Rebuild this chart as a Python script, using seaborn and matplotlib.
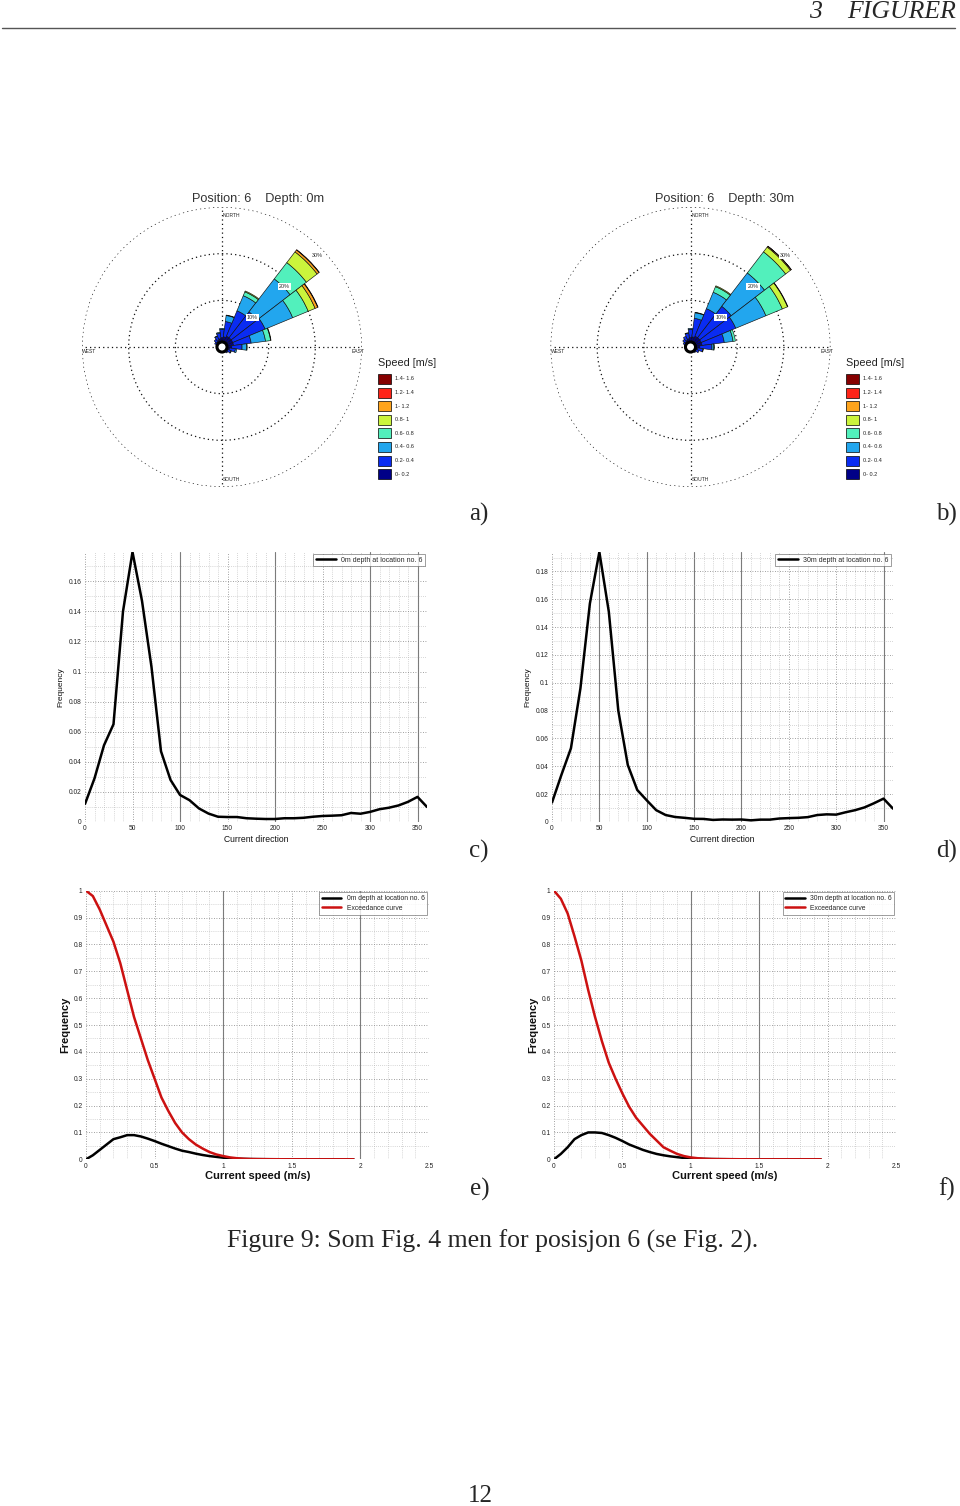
import numpy as np
import matplotlib
matplotlib.use("Agg")
import matplotlib.pyplot as plt
import seaborn as sns
from matplotlib.patches import Rectangle, Circle
from matplotlib.lines import Line2D
from matplotlib.ticker import MultipleLocator, FuncFormatter

sns.set_theme(style="white")
plt.rcParams['font.family'] = ['Liberation Sans', 'DejaVu Sans']

# ---------------- DATA ----------------
rose_dirs = [0, 15, 30, 45, 60, 75, 90, 105, 120, 135, 150, 165,
             180, 195, 210, 225, 240, 255, 270, 285, 300, 315, 330, 345]
speed_labels = ["0- 0.2", "0.2- 0.4", "0.4- 0.6", "0.6- 0.8",
                "0.8- 1", "1- 1.2", "1.2- 1.4", "1.4- 1.6"]

# Percent per direction, per speed class (0 m)
rose0_s0 = [2.0, 2.2, 2.5, 2.5, 2.5, 2.5, 2.1, 1.6, 1.3, 1.1, 1.0, 0.9, 0.8, 0.8, 0.8, 0.8, 0.8, 0.8, 0.9, 1.0, 1.2, 1.4, 1.6, 1.8]
rose0_s1 = [1.8, 3.3, 5.9, 7.0, 7.5, 3.8, 2.2, 1.3, 0.8, 0.5, 0.3, 0.2, 0.1, 0.1, 0.1, 0.1, 0.1, 0.1, 0.2, 0.3, 0.5, 0.7, 0.9, 1.2]
rose0_s2 = [0.2, 1.3, 3.5, 8.9, 6.4, 3.1, 1.0, 0.3, 0.1, 0, 0, 0, 0, 0, 0, 0, 0, 0, 0, 0, 0, 0, 0.1, 0.2]
rose0_s3 = [0, 0.1, 0.9, 4.4, 3.6, 1.1, 0.1, 0, 0, 0, 0, 0, 0, 0, 0, 0, 0, 0, 0, 0, 0, 0, 0, 0]
rose0_s4 = [0, 0, 0.2, 2.9, 1.6, 0.1, 0, 0, 0, 0, 0, 0, 0, 0, 0, 0, 0, 0, 0, 0, 0, 0, 0, 0]
rose0_s5 = [0, 0, 0, 0.5, 0.6, 0, 0, 0, 0, 0, 0, 0, 0, 0, 0, 0, 0, 0, 0, 0, 0, 0, 0, 0]
rose0_s6 = [0, 0, 0, 0.1, 0.1, 0, 0, 0, 0, 0, 0, 0, 0, 0, 0, 0, 0, 0, 0, 0, 0, 0, 0, 0]
rose0_s7 = [0] * 24

# Percent per direction, per speed class (30 m)
rose30_s0 = [2.0, 2.2, 2.5, 2.5, 2.5, 2.5, 2.0, 1.5, 1.3, 1.1, 1.0, 0.9, 0.8, 0.8, 0.8, 0.8, 0.8, 0.8, 0.9, 1.0, 1.2, 1.4, 1.6, 1.8]
rose30_s1 = [1.8, 4.0, 6.4, 8.5, 8.0, 4.8, 2.6, 1.2, 0.7, 0.4, 0.2, 0.1, 0.1, 0.1, 0.1, 0.1, 0.1, 0.1, 0.2, 0.3, 0.5, 0.7, 0.9, 1.2]
rose30_s2 = [0.2, 1.2, 3.8, 9.0, 7.0, 1.9, 0.4, 0.1, 0, 0, 0, 0, 0, 0, 0, 0, 0, 0, 0, 0, 0, 0, 0, 0.1]
rose30_s3 = [0, 0.1, 1.3, 5.7, 3.8, 0.5, 0.1, 0, 0, 0, 0, 0, 0, 0, 0, 0, 0, 0, 0, 0, 0, 0, 0, 0]
rose30_s4 = [0, 0, 0.2, 1.3, 1.2, 0, 0, 0, 0, 0, 0, 0, 0, 0, 0, 0, 0, 0, 0, 0, 0, 0, 0, 0]
rose30_s5 = [0, 0, 0, 0.2, 0.1, 0, 0, 0, 0, 0, 0, 0, 0, 0, 0, 0, 0, 0, 0, 0, 0, 0, 0, 0]
rose30_s6 = [0, 0, 0, 0.05, 0, 0, 0, 0, 0, 0, 0, 0, 0, 0, 0, 0, 0, 0, 0, 0, 0, 0, 0, 0]
rose30_s7 = [0] * 24

dir_deg = [0, 10, 20, 30, 40, 50, 60, 70, 80, 90, 100, 110, 120, 130, 140, 150, 160, 170, 180,
           190, 200, 210, 220, 230, 240, 250, 260, 270, 280, 290, 300, 310, 320, 330, 340, 350, 360]
freq_dir_0m = [0.012, 0.029, 0.051, 0.065, 0.140, 0.1795, 0.147, 0.103, 0.047, 0.028, 0.018, 0.0145,
               0.009, 0.0056, 0.0035, 0.0033, 0.0033, 0.0025, 0.0022, 0.002, 0.002, 0.0025, 0.0025,
               0.0028, 0.0035, 0.004, 0.0042, 0.0045, 0.006, 0.0055, 0.0067, 0.0085, 0.0095, 0.011,
               0.0134, 0.0167, 0.010]
freq_dir_30m = [0.014, 0.034, 0.053, 0.096, 0.157, 0.194, 0.151, 0.080, 0.041, 0.023, 0.0156, 0.0085,
                0.005, 0.0036, 0.003, 0.0023, 0.0022, 0.0015, 0.0018, 0.0017, 0.0018, 0.0012, 0.0017,
                0.0017, 0.0025, 0.0028, 0.003, 0.0035, 0.005, 0.0055, 0.0053, 0.007, 0.0085, 0.0105,
                0.0135, 0.0168, 0.0096]

speed = [0.00, 0.05, 0.10, 0.15, 0.20, 0.25, 0.30, 0.35, 0.40, 0.45, 0.50, 0.55, 0.60, 0.65, 0.70,
         0.75, 0.80, 0.85, 0.90, 0.95, 1.00, 1.05, 1.10, 1.15, 1.20, 1.25, 1.30, 1.35, 1.40, 1.45,
         1.50, 1.55, 1.60, 1.65, 1.70, 1.75, 1.80, 1.85, 1.90, 1.95]
pdf_0m = [0.0, 0.015, 0.035, 0.055, 0.075, 0.082, 0.090, 0.090, 0.085, 0.077, 0.068, 0.058, 0.049,
          0.040, 0.032, 0.027, 0.021, 0.016, 0.012, 0.009, 0.006, 0.004, 0.002, 0.0015, 0.001,
          0.0007, 0.0005, 0.0003, 0.0002, 0.0001, 0, 0, 0, 0, 0, 0, 0, 0, 0, 0]
exc_0m = [1.0, 0.98, 0.93, 0.87, 0.81, 0.73, 0.63, 0.53, 0.45, 0.37, 0.30, 0.23, 0.18, 0.135, 0.10,
          0.075, 0.055, 0.04, 0.027, 0.018, 0.012, 0.007, 0.004, 0.002, 0.001, 0.0007, 0.0005,
          0.0003, 0.0002, 0.0001, 0, 0, 0, 0, 0, 0, 0, 0, 0, 0]
pdf_30m = [0.0, 0.02, 0.045, 0.075, 0.09, 0.10, 0.10, 0.098, 0.09, 0.08, 0.068, 0.055, 0.045, 0.035,
           0.027, 0.02, 0.015, 0.011, 0.008, 0.005, 0.003, 0.002, 0.0015, 0.001, 0.0007, 0.0005,
           0.0003, 0.0002, 0.0001, 0.0001, 0, 0, 0, 0, 0, 0, 0, 0, 0, 0]
exc_30m = [1.0, 0.97, 0.915, 0.83, 0.74, 0.63, 0.53, 0.44, 0.36, 0.30, 0.245, 0.195, 0.155, 0.125,
           0.095, 0.07, 0.045, 0.032, 0.02, 0.012, 0.007, 0.004, 0.002, 0.001, 0.0007, 0.0005,
           0.0003, 0.0002, 0.0001, 0.0001, 0, 0, 0, 0, 0, 0, 0, 0, 0, 0]

# ---------------- STYLE ----------------
speed_colors = ['#000087', '#0a2cf2', '#22a6ee', '#52f0bc', '#cbf43c', '#ffa41c', '#ff2418', '#860000']
W, H = 960, 1506
SERIF = ['Liberation Serif', 'DejaVu Serif']

fig = plt.figure(figsize=(W / 100, H / 100), dpi=100)
fig.patch.set_facecolor('white')


def fx(px):
    return px / W


def fy(py):
    return 1 - py / H


def draw_rose(cx, cy, rad, classes, title, title_x, leg_x):
    ax = fig.add_axes([fx(cx - rad), fy(cy + rad), 2 * rad / W, 2 * rad / H], projection='polar')
    ax.set_theta_zero_location('N')
    ax.set_theta_direction(-1)
    theta = np.deg2rad(rose_dirs)
    bottom = np.zeros(len(rose_dirs))
    for vals, col in zip(classes, speed_colors):
        v = np.array(vals, dtype=float)
        m = v > 0
        if m.any():
            ax.bar(theta[m], v[m], width=np.deg2rad(15), bottom=bottom[m], color=col,
                   edgecolor='#101010', linewidth=0.45, align='center', zorder=3)
        bottom += v
    ax.set_ylim(0, 30)
    ax.set_yticks([10, 20, 30])
    ax.set_yticklabels([])
    ax.set_xticks(np.deg2rad([0, 90, 180, 270]))
    ax.set_xticklabels([])
    ax.grid(True, linestyle=(0, (1, 2.5)), color='#111111', linewidth=0.9)
    ax.spines['polar'].set_visible(False)
    ax.set_facecolor('none')
    ax.add_patch(Circle((0.5, 0.5), 0.018, transform=ax.transAxes, facecolor='white',
                        edgecolor='black', lw=2.2, zorder=6))
    for r, lab in [(9.0, '10%'), (18.6, '20%'), (28.3, '30%')]:
        ax.text(np.deg2rad(46), r, lab, fontsize=3.9, ha='center', va='center', zorder=7,
                bbox=dict(boxstyle='square,pad=0.2', fc='white', ec='none'))
    ax.text(0.503, 0.968, 'NORTH', transform=ax.transAxes, fontsize=3.6, ha='left', va='center')
    ax.text(0.503, 0.027, 'SOUTH', transform=ax.transAxes, fontsize=3.6, ha='left', va='center')
    ax.text(0.0, 0.483, 'WEST', transform=ax.transAxes, fontsize=3.6, ha='left', va='center')
    ax.text(1.01, 0.483, 'EAST', transform=ax.transAxes, fontsize=3.6, ha='right', va='center')
    fig.text(fx(title_x), fy(199), title, fontsize=9.2, ha='center', va='center', color='#333333')
    # speed legend
    fig.text(fx(leg_x), fy(363), "Speed [m/s]", fontsize=7.8, ha='left', va='center', color='#222222')
    for i, (lab, col) in enumerate(zip(speed_labels[::-1], speed_colors[::-1])):
        yc = 379 + i * 13.6
        fig.add_artist(Rectangle((fx(leg_x), fy(yc + 5)), 13 / W, 10 / H, transform=fig.transFigure,
                                 facecolor=col, edgecolor='black', lw=0.5))
        fig.text(fx(leg_x + 17), fy(yc), lab, fontsize=4.0, ha='left', va='center', color='#222222')


draw_rose(222, 347, 140, [rose0_s0, rose0_s1, rose0_s2, rose0_s3, rose0_s4, rose0_s5, rose0_s6, rose0_s7],
          "Position: 6    Depth: 0m", 258, 378)
draw_rose(690.5, 347, 140, [rose30_s0, rose30_s1, rose30_s2, rose30_s3, rose30_s4, rose30_s5, rose30_s6, rose30_s7],
          "Position: 6    Depth: 30m", 725, 846)

fmt = FuncFormatter(lambda v, p: f"{v:g}")


def style_grid(ax, xmaj, xmin, ymaj, ymin):
    ax.xaxis.set_major_locator(MultipleLocator(xmaj))
    ax.xaxis.set_minor_locator(MultipleLocator(xmin))
    ax.yaxis.set_major_locator(MultipleLocator(ymaj))
    ax.yaxis.set_minor_locator(MultipleLocator(ymin))
    ax.xaxis.set_major_formatter(fmt)
    ax.yaxis.set_major_formatter(fmt)
    ax.grid(which='major', linestyle=(0, (1, 2)), color='#808080', linewidth=0.6)
    ax.grid(which='minor', linestyle=(0, (1, 2)), color='#b0b0b0', linewidth=0.5)
    ax.tick_params(which='both', length=0, pad=2.5, labelsize=4.8, colors='#222222')
    for s in ax.spines.values():
        s.set_visible(False)
    ax.set_axisbelow(True)


def dir_panel(rect, y, label, solid_x):
    ax = fig.add_axes(rect)
    sns.lineplot(x=dir_deg, y=y, ax=ax, color='black', linewidth=1.8, label=label)
    ax.set_xlim(0, 360)
    ax.set_ylim(0, max(y))
    style_grid(ax, 50, 10, 0.02, 0.01)
    for xv in solid_x:
        ax.axvline(xv, color='#7a7a7a', lw=0.8, zorder=0.5)
    ax.set_xlabel("Current direction", fontsize=6.2, labelpad=1.5, color='#111111')
    ax.set_ylabel("Frequency", fontsize=6.0, labelpad=3, color='#111111')
    leg = ax.legend(loc='upper right', fontsize=5.0, frameon=True, fancybox=False,
                    handlelength=2.8, borderpad=0.4, borderaxespad=0.25, edgecolor='#555555')
    leg.get_frame().set_linewidth(0.5)
    return ax


def speed_panel(rect, pdf, exc, label, solid_x):
    ax = fig.add_axes(rect)
    sns.lineplot(x=speed, y=pdf, ax=ax, color='black', linewidth=1.8, label=label)
    sns.lineplot(x=speed, y=exc, ax=ax, color='#cc1111', linewidth=1.8, label="Exceedance curve")
    ax.set_xlim(0, 2.5)
    ax.set_ylim(0, 1)
    style_grid(ax, 0.5, 0.1, 0.1, 0.05)
    for xv in solid_x:
        ax.axvline(xv, color='#7a7a7a', lw=0.8, zorder=0.5)
    ax.set_xlabel("Current speed (m/s)", fontsize=8, fontweight='bold', labelpad=1, color='#111111')
    ax.set_ylabel("Frequency", fontsize=8, fontweight='bold', labelpad=2, color='#111111')
    leg = ax.legend(loc='upper right', fontsize=4.9, frameon=True, fancybox=False,
                    handlelength=2.8, borderpad=0.4, borderaxespad=0.25, edgecolor='#555555',
                    labelspacing=0.4)
    leg.get_frame().set_linewidth(0.5)
    return ax


dir_panel([fx(85), fy(822), 342 / W, 270 / H], freq_dir_0m, "0m depth at location no. 6", [100, 200, 300, 350])
dir_panel([fx(552), fy(822), 341 / W, 270 / H], freq_dir_30m, "30m depth at location no. 6", [50, 100, 150, 200, 350])
speed_panel([fx(86), fy(1159.3), 343 / W, 268.6 / H], pdf_0m, exc_0m, "0m depth at location no. 6", [1, 2])
speed_panel([fx(554), fy(1159.3), 342 / W, 268.6 / H], pdf_30m, exc_30m, "30m depth at location no. 6", [1, 1.5])

# ---------------- page text ----------------
fig.add_artist(Line2D([fx(2), fx(955)], [fy(28), fy(28)], color='#555555', lw=1.0))
fig.text(fx(822), fy(12), "3", family=SERIF, style='italic', fontsize=18.5, ha='right', va='center')
fig.text(fx(956), fy(12), "FIGURER", family=SERIF, style='italic', fontsize=18.5, ha='right', va='center')

for lab, x, y in [("a)", 488, 514), ("b)", 957, 514), ("c)", 488, 851),
                  ("d)", 957, 851), ("e)", 490, 1189), ("f)", 955, 1189)]:
    fig.text(fx(x), fy(y), lab, family=SERIF, fontsize=18, ha='right', va='center')

fig.text(fx(492.5), fy(1241), "Figure 9: Som Fig. 4 men for posisjon 6 (se Fig. 2).",
         family=SERIF, fontsize=18.5, ha='center', va='center')
fig.text(fx(480), fy(1496), "12", family=SERIF, fontsize=18, ha='center', va='center')

fig.savefig("out.png", dpi=100, facecolor='white')
